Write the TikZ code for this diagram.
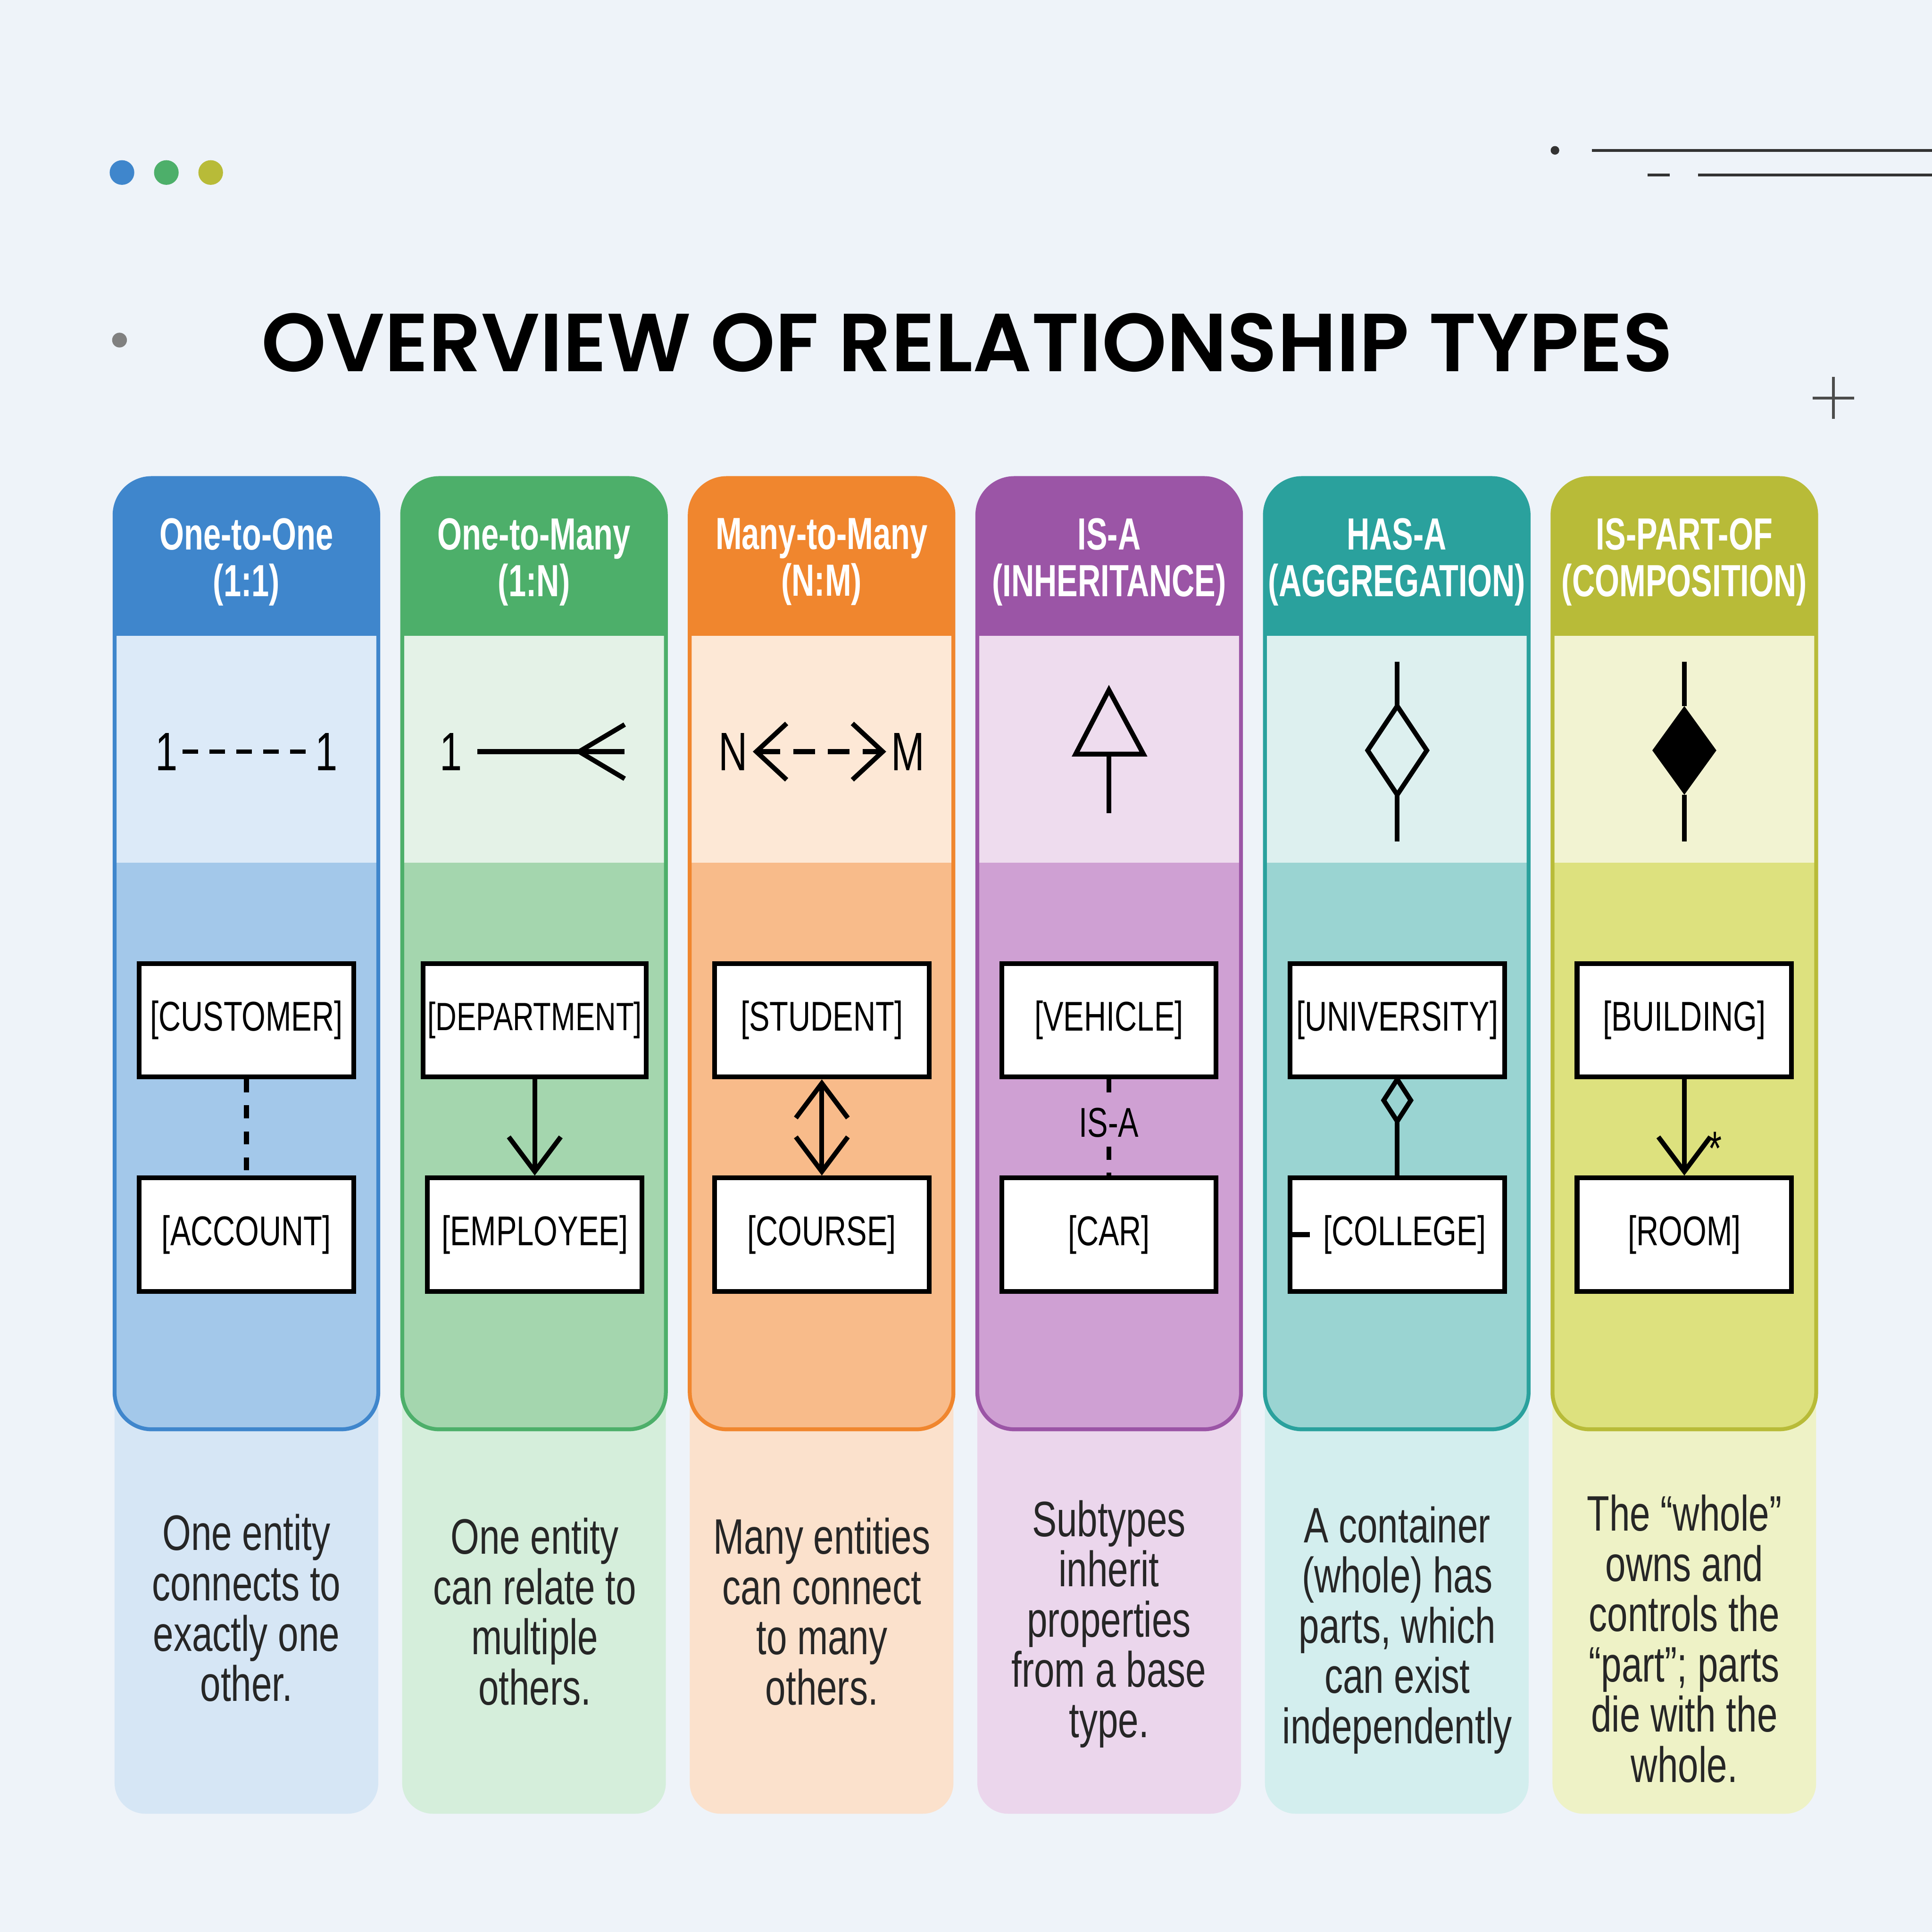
\documentclass[tikz,border=0pt]{standalone}
\usepackage{fontspec}
\setmainfont{Liberation Sans}[FakeStretch=0.74]
\newfontfamily\headfont{Liberation Sans}[FakeStretch=0.7]
\newfontfamily\titlefont{Poppins SemiBold}
\usetikzlibrary{arrows.meta}
\definecolor{hdA}{HTML}{3F86CC}\definecolor{ltA}{HTML}{DCEAF8}\definecolor{mdA}{HTML}{A3C8EA}\definecolor{btA}{HTML}{D6E6F5}
\definecolor{hdB}{HTML}{4DAF6A}\definecolor{ltB}{HTML}{E4F2E7}\definecolor{mdB}{HTML}{A4D6AE}\definecolor{btB}{HTML}{D5EEDB}
\definecolor{hdC}{HTML}{F0862E}\definecolor{ltC}{HTML}{FDE8D6}\definecolor{mdC}{HTML}{F8BB8A}\definecolor{btC}{HTML}{FBE1CC}
\definecolor{hdD}{HTML}{9B55A6}\definecolor{ltD}{HTML}{EEDCEE}\definecolor{mdD}{HTML}{CFA0D3}\definecolor{btD}{HTML}{EBD6EC}
\definecolor{hdE}{HTML}{2AA19D}\definecolor{ltE}{HTML}{DDF0EF}\definecolor{mdE}{HTML}{9AD4D2}\definecolor{btE}{HTML}{D3EEEE}
\definecolor{hdF}{HTML}{B8BB38}\definecolor{ltF}{HTML}{F2F3D2}\definecolor{mdF}{HTML}{DDE17E}\definecolor{btF}{HTML}{EEF2C6}
\definecolor{bg}{HTML}{EEF3F9}
\begin{document}
\begin{tikzpicture}[x=0.01cm,y=-0.01cm,
  box/.style={draw=black,line width=1.1pt,fill=white,minimum width=1.74cm,minimum height=0.92cm,inner sep=0pt,font=\fontsize{9.6}{12}\selectfont},
  head/.style={text=white,align=center,font=\headfont\bfseries\fontsize{10.4}{10.8}\selectfont},
  desc/.style={align=center,text=black!85,font=\fontsize{11.5}{11.6}\selectfont},
  sym/.style={line width=1.1pt},
  conn/.style={line width=1.1pt}]
\fill[bg] (0,0) rectangle (1568,1568);
\useasboundingbox (0,0) rectangle (1568,1568);
\fill[hdA] (99,140) circle (10);\fill[hdB] (135,140) circle (10);\fill[hdF] (171,140) circle (10);
\fill[gray] (97,276) circle (6);
\fill[black!80] (1262,122) circle (3.5);
\draw[black!80,line width=0.7pt] (1292,122) -- (1568,122) (1337,142) -- (1355,142) (1378,142) -- (1568,142);
\draw[black!70,line width=0.6pt] (1471,323) -- (1505,323) (1488,306) -- (1488,340);
\node[font=\titlefont\fontsize{19}{21}\selectfont] (title) at (785,278) {OVERVIEW OF RELATIONSHIP TYPES};
\foreach \i/\c/\h in {0/A/{One-to-One\\(1:1)},1/B/{One-to-Many\\(1:N)},2/C/{Many-to-Many\\(N:M)},3/D/{IS-A\\(INHERITANCE)},4/E/{HAS-A\\(AGGREGATION)},5/F/{IS-PART-OF\\(COMPOSITION)}}{
  \pgfmathsetmacro{\xa}{93+\i*233.4}
  \fill[bt\c,rounded corners=0.25cm] (\xa,1120) rectangle (\xa+214,1472);
  \begin{scope}
  \clip[rounded corners=0.3cm] (\xa,388) rectangle (\xa+214,1160);
  \fill[md\c] (\xa,388) rectangle (\xa+214,1160);
  \fill[hd\c] (\xa,388) rectangle (\xa+214,516);
  \fill[lt\c] (\xa,516) rectangle (\xa+214,700);
  \end{scope}
  \draw[hd\c,line width=0.9pt,rounded corners=0.3cm] (\xa,388) rectangle (\xa+214,1160);
  \node[head] (h\c) at (\xa+107,456) {\h};
}
% column 1
\node[font=\fontsize{12.5}{14}\selectfont,inner sep=1pt] (n1) at (135,610) {1};
\node[font=\fontsize{12.5}{14}\selectfont,inner sep=1pt] (m1) at (265,610) {1};
\draw[line width=1pt,dash pattern=on 3.6pt off 2.6pt] (n1.east) -- (m1.west);
\node[box] (a1) at (200,828) {[CUSTOMER]};
\node[box] (b1) at (200,1002) {[ACCOUNT]};
\draw[conn,dash pattern=on 3pt off 3pt] (a1.south) -- (b1.north);
\node[desc] (d1) at (200,1305) {One entity\\connects to\\exactly one\\other.};
% column 2
\node[font=\fontsize{12.5}{14}\selectfont] (s2) at (366,610) {1};
\coordinate (e2) at (507,610);
\draw[sym] (s2.east) -- (e2);
\draw[sym] (507,588) -- (470,610) -- (507,632);
\node[box,minimum width=1.81cm,font=\fontsize{9.1}{12}\selectfont] (a2) at (434,828) {[DEPARTMENT]};
\node[box] (b2) at (434,1002) {[EMPLOYEE]};
\draw[conn,-{Straight Barb[length=8pt,width=12pt]}] (a2) -- (b2);
\node[desc] (d2) at (434,1308) {One entity\\can relate to\\multiple\\others.};
% column 3
\node[font=\fontsize{12.5}{14}\selectfont,inner sep=1pt] (n3) at (595,610) {N};
\node[font=\fontsize{12.5}{14}\selectfont,inner sep=1pt] (m3) at (737,610) {M};
\draw[sym,dash pattern=on 5pt off 3pt,{Straight Barb[length=7pt,width=13pt]}-{Straight Barb[length=7pt,width=13pt]}] (n3.east) -- (m3.west);
\node[box] (a3) at (667,828) {[STUDENT]};
\node[box] (b3) at (667,1002) {[COURSE]};
\draw[conn,{Straight Barb[length=8pt,width=12pt]}-{Straight Barb[length=8pt,width=12pt]}] (a3) -- (b3);
\node[desc] (d3) at (667,1308) {Many entities\\can connect\\to many\\others.};
% column 4
\coordinate (t4) at (900,560);
\coordinate (u4) at (900,660);
\draw[sym] (t4) -- (928,612) -- (873,612) -- cycle;
\draw[sym] (900,612) -- (u4);
\node[box] (a4) at (900,828) {[VEHICLE]};
\node[box] (b4) at (900,1002) {[CAR]};
\node[font=\fontsize{9.6}{12}\selectfont,inner sep=2pt] (l4) at (900,911) {IS-A};
\draw[conn,dash pattern=on 3pt off 3pt] (a4) -- (l4) (l4) -- (b4);
\node[desc] (d4) at (900,1318) {Subtypes\\inherit\\properties\\from a base\\type.};
% column 5
\coordinate (p5) at (1134,537);\coordinate (q5) at (1134,683);
\draw[sym] (p5) -- (1134,573) (1134,645) -- (q5);
\draw[sym] (1134,573) -- (1158,609) -- (1134,645) -- (1110,609) -- cycle;
\node[box] (a5) at (1134,828) {[UNIVERSITY]};
\node[box] (b5) at (1134,1002) {\hspace{0.12cm}[COLLEGE]};
\draw[conn] (a5.south) -- (1145,893) -- (1134,910) -- (1123,893) -- cycle;
\draw[conn] (1134,910) -- (b5);
\draw[conn] (b5.west) -- ++(18,0);
\node[desc] (d5) at (1134,1323) {A container\\(whole) has\\parts, which\\can exist\\independently};
% column 6
\coordinate (p6) at (1367,537);\coordinate (q6) at (1367,683);
\draw[sym] (p6) -- (1367,573) (1367,645) -- (q6);
\fill (1367,573) -- (1393,609) -- (1367,645) -- (1341,609) -- cycle;
\node[box] (a6) at (1367,828) {[BUILDING]};
\node[box] (b6) at (1367,1002) {[ROOM]};
\draw[conn,-{Straight Barb[length=8pt,width=12pt]}] (a6) -- (b6);
\node[font=\fontsize{11}{12}\selectfont] (st6) at (1392,932) {*};
\node[desc] (d6) at (1367,1330) {The “whole”\\owns and\\controls the\\“part”; parts\\die with the\\whole.};
\end{tikzpicture}
\end{document}
